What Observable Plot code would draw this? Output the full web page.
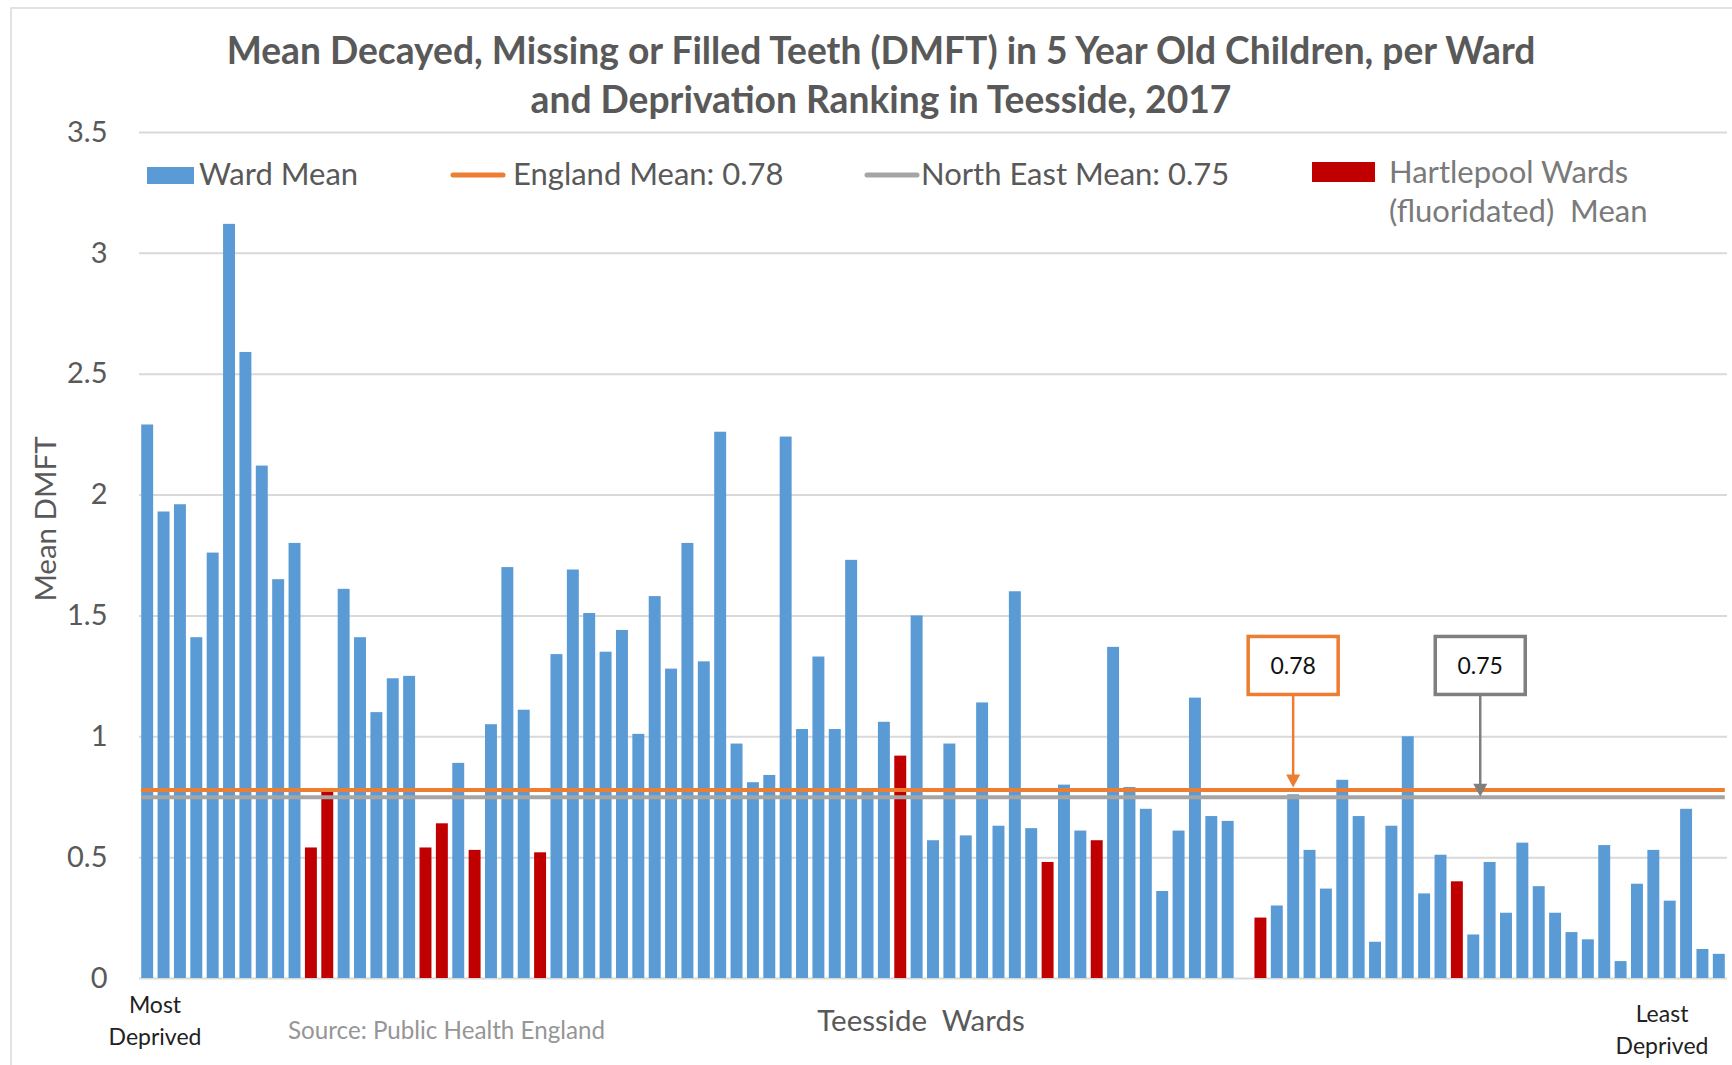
<!DOCTYPE html>
<html><head><meta charset="utf-8">
<script src="https://cdn.jsdelivr.net/npm/d3@7"></script>
<script src="https://cdn.jsdelivr.net/npm/@observablehq/plot@0.6"></script>
<style>
html,body{margin:0;padding:0;background:#fff;}
#chart{position:relative;width:1732px;height:1065px;overflow:hidden;}
svg text{font-family:Lato, sans-serif;}
</style></head><body><div id="chart"></div>
<script>
// ---- data ----
const titleLines = ["Mean Decayed, Missing or Filled Teeth (DMFT) in 5 Year Old Children, per Ward",
                    "and Deprivation Ranking in Teesside, 2017"];
const yLabel = "Mean DMFT";
const xLabel = "Teesside  Wards";
const sourceNote = "Source: Public Health England";
const leftEndLabel = ["Most", "Deprived"];
const rightEndLabel = ["Least", "Deprived"];
const yTicks = [0, 0.5, 1, 1.5, 2, 2.5, 3, 3.5];

// wards ranked from most deprived (1) to least deprived (97)
const wardRanks = d3.range(1, 98);
const dmft = [
  2.29,1.93,1.96,1.41,1.76,3.12,2.59,2.12,1.65,1.80,
  0.54,0.77,1.61,1.41,1.10,1.24,1.25,0.54,0.64,0.89,
  0.53,1.05,1.70,1.11,0.52,1.34,1.69,1.51,1.35,1.44,
  1.01,1.58,1.28,1.80,1.31,2.26,0.97,0.81,0.84,2.24,
  1.03,1.33,1.03,1.73,0.78,1.06,0.92,1.50,0.57,0.97,
  0.59,1.14,0.63,1.60,0.62,0.48,0.80,0.61,0.57,1.37,
  0.79,0.70,0.36,0.61,1.16,0.67,0.65,null,0.25,0.30,
  0.76,0.53,0.37,0.82,0.67,0.15,0.63,1.00,0.35,0.51,
  0.40,0.18,0.48,0.27,0.56,0.38,0.27,0.19,0.16,0.55,
  0.07,0.39,0.53,0.32,0.70,0.12,0.10
];
const hartlepoolRanks = [11,12,18,19,21,25,47,56,59,69,81];
const englandMean = 0.78;
const northEastMean = 0.75;

const seriesNames = ["Ward Mean", "Hartlepool Wards (fluoridated)  Mean"];
const blue = "#5b9bd5", red = "#c00000", orange = "#ed7d31", grey = "#a5a5a5", darkGrey = "#7f7f7f";

const data = wardRanks.map((r, i) => ({ward: r, value: dmft[i],
  group: hartlepoolRanks.includes(r) ? seriesNames[1] : seriesNames[0]}));

const plot = Plot.plot({
  width: 1732, height: 1065,
  marginLeft: 139, marginRight: 5, marginTop: 132, marginBottom: 87,
  style: {fontFamily: "Lato, sans-serif", fontSize: "28px", color: "#595959", background: "white", overflow: "visible"},
  x: {type: "band", domain: wardRanks, paddingInner: 0.27, paddingOuter: 0.135, axis: null},
  y: {domain: [0, 3.5], label: null, axis: null},
  color: {domain: seriesNames, range: [blue, red]},
  marks: [
    Plot.gridY(yTicks, {stroke: "#d9d9d9", strokeOpacity: 1, strokeWidth: 2}),
    Plot.axisY(yTicks, {tickSize: 0, tickPadding: 32, tickFormat: d => String(d), fontSize: 29, fill: "#595959", label: null}),
    Plot.barY(data, {x: "ward", y: "value", fill: "group"}),
    Plot.ruleY([englandMean], {x1: () => wardRanks[0], x2: () => wardRanks[wardRanks.length - 1], stroke: orange, strokeWidth: 4}),
    Plot.ruleY([northEastMean], {x1: () => wardRanks[0], x2: () => wardRanks[wardRanks.length - 1], stroke: grey, strokeWidth: 4})
  ]
});
document.getElementById("chart").appendChild(plot);

const svg = d3.select(plot);
const xS = plot.scale("x"), yS = plot.scale("y");
const cx = w => xS.apply(w) + xS.bandwidth / 2;
const txt = (sel, x, y, size, fill, anchor = "start") => sel.append("text").attr("x", x).attr("y", y)
  .attr("font-size", size).attr("fill", fill).attr("text-anchor", anchor).style("white-space", "pre");

// chart frame
svg.insert("rect", ":first-child").attr("x", 11).attr("y", 8).attr("width", 1800).attr("height", 1200)
  .attr("fill", "none").attr("stroke", "#d9d9d9").attr("stroke-width", 1.5);

// title
titleLines.forEach((t, i) => txt(svg, 881, 64 + i * 49, 37.2, "#595959", "middle").attr("font-weight", 700).text(t));

// y label
svg.append("text").attr("transform", "translate(56,519) rotate(-90)").attr("text-anchor", "middle")
  .attr("font-size", 29.5).attr("fill", "#595959").text(yLabel);

// bottom labels
leftEndLabel.forEach((t, i) => txt(svg, 155, 1013 + i * 32, 23, "#222", "middle").text(t));
rightEndLabel.forEach((t, i) => txt(svg, 1662, 1022 + i * 32, 23, "#222", "middle").text(t));
txt(svg, 288, 1039, 24.2, "#969696").text(sourceNote);
txt(svg, 921, 1031, 29.5, "#595959", "middle").text(xLabel);

// legend
const lg = svg.append("g");
lg.append("rect").attr("x", 147).attr("y", 167).attr("width", 47).attr("height", 17).attr("fill", blue);
txt(lg, 199, 185, 31, "#595959").text(seriesNames[0]);
lg.append("line").attr("x1", 453).attr("x2", 503).attr("y1", 175).attr("y2", 175).attr("stroke", orange).attr("stroke-width", 5).attr("stroke-linecap", "round");
txt(lg, 513, 185, 31, "#595959").text(`England Mean: ${englandMean}`);
lg.append("line").attr("x1", 867).attr("x2", 917).attr("y1", 175).attr("y2", 175).attr("stroke", grey).attr("stroke-width", 5).attr("stroke-linecap", "round");
txt(lg, 921, 185, 31, "#595959").text(`North East Mean: ${northEastMean}`);
lg.append("rect").attr("x", 1312).attr("y", 162).attr("width", 63).attr("height", 20).attr("fill", red);
txt(lg, 1389, 183, 31, "#7a7a7a").text("Hartlepool Wards");
txt(lg, 1389, 222, 31, "#7a7a7a").text("(fluoridated)  Mean");

// annotation call-outs
const annotations = [
  {label: String(englandMean), ward: 71, value: englandMean, color: orange, arrow: orange, dx: 0, tipGap: 2},
  {label: String(northEastMean), ward: 82, value: northEastMean, color: darkGrey, arrow: darkGrey, dx: 7, tipGap: 0}
];
const boxTop = yS.apply(englandMean) - 153, boxH = 58, boxW = 90;
annotations.forEach(a => {
  const x = cx(a.ward) + a.dx;
  const ly = yS.apply(a.value) - a.tipGap;
  const g = svg.append("g");
  g.append("line").attr("x1", x).attr("x2", x).attr("y1", boxTop + boxH).attr("y2", ly - 12)
    .attr("stroke", a.arrow).attr("stroke-width", 2.5);
  g.append("path").attr("d", `M${x - 7},${ly - 13}L${x + 7},${ly - 13}L${x},${ly}Z`).attr("fill", a.arrow);
  g.append("rect").attr("x", x - boxW / 2).attr("y", boxTop).attr("width", boxW).attr("height", boxH)
    .attr("fill", "white").attr("stroke", a.color).attr("stroke-width", 3.5);
  txt(g, x, boxTop + boxH / 2, 23, "#111", "middle").attr("dy", "0.36em").text(a.label);
});
</script></body></html>
